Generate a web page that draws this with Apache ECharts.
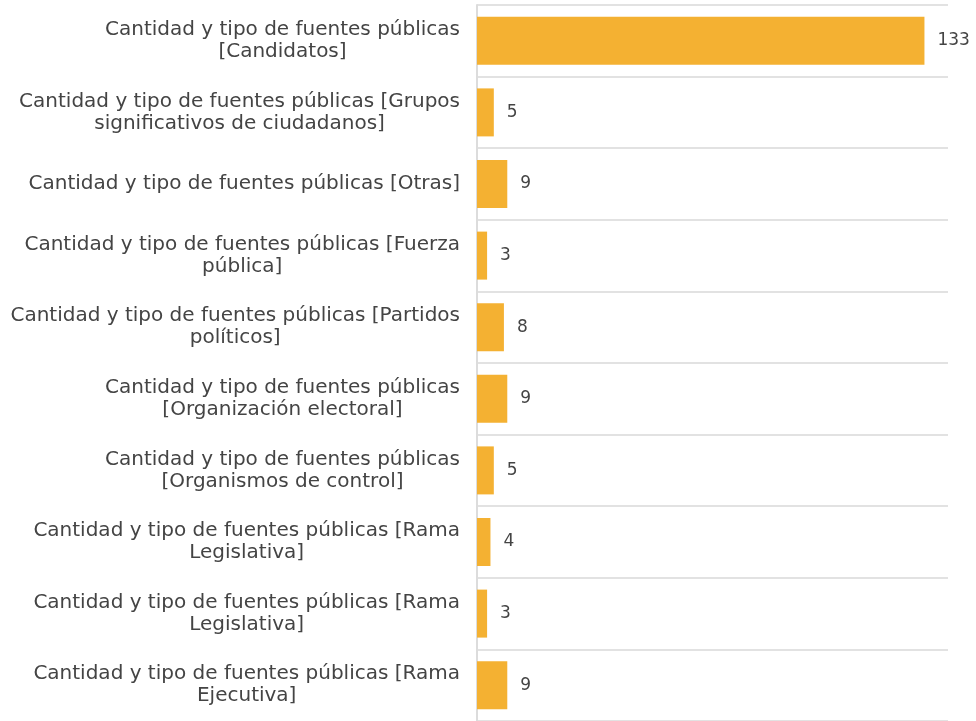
<!DOCTYPE html>
<html>
<head>
<meta charset="utf-8">
<script src="https://cdn.jsdelivr.net/npm/echarts@6/dist/echarts.min.js"></script>
<style>
html, body { margin: 0; padding: 0; background: #fff; }
#chart { width: 976px; height: 721px; }
</style>
</head>
<body>
<div id="chart"></div>
<script>
// categorias (top to bottom) y valores
var categorias = [
    'Cantidad y tipo de fuentes públicas\n[Candidatos]',
    'Cantidad y tipo de fuentes públicas [Grupos\nsignificativos de ciudadanos]',
    'Cantidad y tipo de fuentes públicas [Otras]',
    'Cantidad y tipo de fuentes públicas [Fuerza\npública]',
    'Cantidad y tipo de fuentes públicas [Partidos\npolíticos]',
    'Cantidad y tipo de fuentes públicas\n[Organización electoral]',
    'Cantidad y tipo de fuentes públicas\n[Organismos de control]',
    'Cantidad y tipo de fuentes públicas [Rama\nLegislativa]',
    'Cantidad y tipo de fuentes públicas [Rama\nLegislativa]',
    'Cantidad y tipo de fuentes públicas [Rama\nEjecutiva]'
];
var valores = [133, 5, 9, 3, 8, 9, 5, 4, 3, 9];

var labelFont = '"DejaVu Sans", sans-serif';

var chart = echarts.init(document.getElementById('chart'));
var option = {
    backgroundColor: '#fff',
    animation: false,
    textStyle: {fontFamily: labelFont},
    grid: {left: 477, right: 28, top: 5, height: 720},
    xAxis: {
        type: 'value',
        min: 0,
        max: 140,
        show: false
    },
    yAxis: {
        type: 'category',
        inverse: true,
        data: categorias,
        axisTick: {show: false},
        axisLine: {lineStyle: {color: '#dcdcdc', width: 2}},
        splitLine: {show: true, lineStyle: {color: '#e2e2e2', width: 2}},
        axisLabel: {
            margin: 17,
            color: '#444',
            fontSize: 20,
            lineHeight: 22,
            fontFamily: labelFont,
            formatter: function(val) {
                return val.split('\n').map(function(l) { return '{a|' + l + '}'; }).join('\n');
            },
            rich: {a: {align: 'center', fontSize: 20, lineHeight: 22, color: '#444', fontFamily: labelFont}}
        }
    },
    series: [{
        type: 'bar',
        data: valores,
        barWidth: 48,
        itemStyle: {color: '#f4b132'},
        label: {
            show: true,
            position: 'right',
            distance: 13,
            color: '#444',
            fontSize: 17,
            fontFamily: labelFont
        }
    }]
};
chart.setOption(option);
</script>
</body>
</html>
